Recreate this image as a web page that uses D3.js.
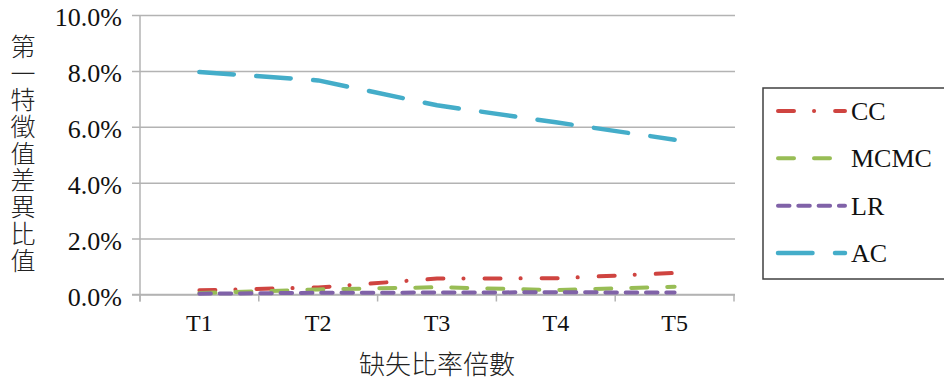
<!DOCTYPE html>
<html>
<head>
<meta charset="utf-8">
<script src="https://cdn.jsdelivr.net/npm/d3@7"></script>
<style>
  html, body { margin: 0; padding: 0; background: #fff; }
  svg { display: block; }
</style>
</head>
<body>
<svg id="chart" width="944" height="383"></svg>
<script>
// Categories (missing-ratio multiples)
const categories = ["T1", "T2", "T3", "T4", "T5"];

// First-eigenvalue difference ratio, in percent
const ccValues   = [0.15, 0.25, 0.57, 0.58, 0.77];
const mcmcValues = [0.05, 0.18, 0.26, 0.16, 0.28];
const lrValues   = [0.03, 0.06, 0.07, 0.08, 0.07];
const acValues   = [7.96, 7.66, 6.77, 6.16, 5.54];

const seriesNames = ["CC", "MCMC", "LR", "AC"];
const yTicks = [0, 2, 4, 6, 8, 10];

const yTitle = "第一特徵值差異比值";
const xTitle = "缺失比率倍數";

const series = [
  { name: "CC",   values: ccValues,   color: "#cf4440", width: 4,   dash: "16,20,0.1,21" },
  { name: "MCMC", values: mcmcValues, color: "#98bd55", width: 4,   dash: "16,20" },
  { name: "LR",   values: lrValues,   color: "#8062a8", width: 4,   dash: "11.5,8.8" },
  { name: "AC",   values: acValues,   color: "#44adc9", width: 4.5, dash: "34.5,22.5" }
];

const svg = d3.select("#chart");
const serif = "'Liberation Serif', 'Times New Roman', serif";
const cjk = "'Noto Sans CJK TC', 'Noto Sans CJK SC', sans-serif";

const plot = { left: 140, right: 734, top: 15, bottom: 294.5 };

const x = d3.scaleBand().domain(categories).range([plot.left, plot.right]).padding(0);
const y = d3.scaleLinear().domain([0, 10]).range([plot.bottom, plot.top]);

const gridColor = "#b3b3b3";

// Horizontal gridlines, extending a little left of the axis as tick marks
const yAxis = d3.axisLeft(y)
  .tickValues(yTicks)
  .tickSize(-(plot.right - plot.left) - 1)
  .tickPadding(18)
  .tickFormat(d => d3.format(".1f")(d) + "%");

const gy = svg.append("g")
  .attr("transform", `translate(${plot.left},0)`)
  .call(yAxis);
gy.select(".domain").remove();
gy.selectAll(".tick line")
  .attr("x1", -8)
  .attr("stroke", gridColor)
  .attr("stroke-width", 1.5);
gy.selectAll(".tick text")
  .attr("font-family", serif)
  .attr("font-size", 26)
  .attr("fill", "#111")
  .attr("dy", "0.42em");

// Vertical axis line
svg.append("line")
  .attr("x1", plot.left).attr("x2", plot.left)
  .attr("y1", plot.top).attr("y2", plot.bottom + 7)
  .attr("stroke", gridColor).attr("stroke-width", 1.5);

// Category axis with ticks on band boundaries
const gx = svg.append("g")
  .attr("transform", `translate(0,${plot.bottom})`)
  .call(d3.axisBottom(x).tickSize(0).tickPadding(16));
gx.select(".domain")
  .attr("d", `M${plot.left - 8},0H${plot.right + 1}`)
  .attr("stroke", gridColor).attr("stroke-width", 1.5);
gx.selectAll(".tick text")
  .attr("font-family", serif)
  .attr("font-size", 24)
  .attr("fill", "#111")
  .attr("dy", "0.85em");

const boundaries = categories.map(c => x(c)).concat([x(categories[categories.length - 1]) + x.bandwidth()]);
svg.append("g").selectAll("line")
  .data(boundaries)
  .join("line")
  .attr("x1", d => d).attr("x2", d => d)
  .attr("y1", plot.bottom).attr("y2", plot.bottom + 7)
  .attr("stroke", gridColor).attr("stroke-width", 1.5);

// Series lines
const line = d3.line()
  .x((d, i) => x(categories[i]) + x.bandwidth() / 2)
  .y(d => y(d));

svg.append("g").selectAll("path")
  .data(series)
  .join("path")
  .attr("d", d => line(d.values))
  .attr("fill", "none")
  .attr("stroke", d => d.color)
  .attr("stroke-width", d => d.width)
  .attr("stroke-dasharray", d => d.dash)
  .attr("stroke-linecap", "round")
  .attr("stroke-linejoin", "round");

// Y-axis title, written top to bottom as one text
svg.append("text")
  .attr("x", 23)
  .attr("y", 34)
  .style("writing-mode", "vertical-rl")
  .style("text-orientation", "upright")
  .style("letter-spacing", "1.7px")
  .attr("font-family", cjk)
  .attr("font-weight", 300)
  .attr("font-size", 25)
  .attr("fill", "#222")
  .text(yTitle);

// X-axis title
svg.append("text")
  .attr("x", (plot.left + plot.right) / 2)
  .attr("y", 362)
  .attr("text-anchor", "middle")
  .attr("dominant-baseline", "central")
  .attr("font-family", cjk)
  .attr("font-weight", 300)
  .attr("font-size", 26)
  .attr("fill", "#222")
  .text(xTitle);

// Legend
const legend = svg.append("g");
legend.append("rect")
  .attr("x", 763).attr("y", 88)
  .attr("width", 200).attr("height", 191)
  .attr("fill", "#fff")
  .attr("stroke", "#404040")
  .attr("stroke-width", 1.5);

const rowY = d3.scalePoint().domain(seriesNames).range([111, 253]);

const rows = legend.selectAll("g.row")
  .data(series)
  .join("g")
  .attr("class", "row")
  .attr("transform", d => `translate(0,${rowY(d.name)})`);

rows.append("line")
  .attr("x1", 778).attr("x2", 845)
  .attr("stroke", d => d.color)
  .attr("stroke-width", d => d.width)
  .attr("stroke-dasharray", d => d.dash)
  .attr("stroke-linecap", "round");

rows.append("text")
  .attr("x", 851)
  .attr("dy", "0.35em")
  .attr("font-family", serif)
  .attr("font-size", 26)
  .attr("fill", "#111")
  .text(d => d.name);
</script>
</body>
</html>
